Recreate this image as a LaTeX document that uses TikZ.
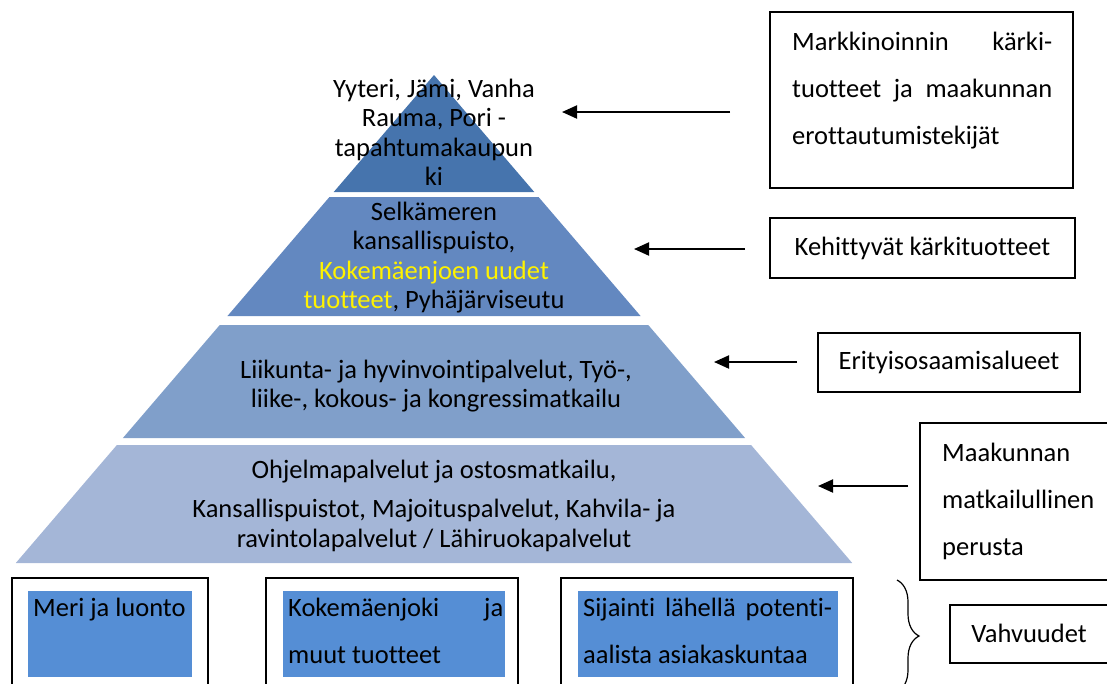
\documentclass[tikz,border=0pt]{standalone}
\usepackage{fontspec}
\setmainfont{Carlito}[Ligatures=NoCommon]
\usetikzlibrary{arrows.meta,decorations.pathreplacing}

\definecolor{layA}{RGB}{70,116,173}
\definecolor{layB}{RGB}{99,136,192}
\definecolor{layC}{RGB}{128,159,202}
\definecolor{layD}{RGB}{164,182,215}
\definecolor{cellblue}{RGB}{85,142,213}

\begin{document}
\begin{tikzpicture}[
    x=1pt, y=-1pt,
    txt/.style={inner sep=0pt, align=center, font=\fontsize{26.5}{29.5}\selectfont},
    box/.style={rectangle, draw, line width=1.6pt},
    note/.style={inner sep=0pt, align=justify, font=\fontsize{26.5}{47}\selectfont},
    >={Triangle[length=15pt,width=13pt]}
]
    \useasboundingbox (0,0) rectangle (1107,683);
    \clip (0,0) rectangle (1107,683);

    % Pyramid layers
    \foreach \ya/\yb/\col in {75/192/layA, 197/316/layB, 325/438/layC, 445/563/layD}{
        \pgfmathsetmacro\wa{0.857*(\ya-75)}
        \pgfmathsetmacro\wb{0.857*(\yb-75)}
        \fill[\col] (434-\wa,\ya) -- (434+\wa,\ya) -- (434+\wb,\yb) -- (434-\wb,\yb) -- cycle;
    }

    % Layer texts
    \node[txt] (top)  at (434,132.5) {Yyteri, Jämi, Vanha\\Rauma, Pori -\\tapahtumakaupun\\ki};
    \node[txt] (mid)  at (434,257.5) {Selkämeren\\kansallispuisto,\\\textcolor{yellow}{Kokemäenjoen uudet}\\\textcolor{yellow}{tuotteet}, Pyhäjärviseutu};
    \node[txt] (spec) at (436,386) {Liikunta- ja hyvinvointipalvelut, Työ-,\\liike-, kokous- ja kongressimatkailu};
    \node[txt] (base) at (434,506) {Ohjelmapalvelut ja ostosmatkailu,\\[9.5pt]Kansallispuistot, Majoituspalvelut, Kahvila- ja\\ravintolapalvelut / Lähiruokapalvelut};

    % Right boxes
    \draw[box] (770,12) rectangle (1073,188);
    \node[note, text width=260pt, anchor=north west] (mark) at (792,31.5)
        {Markkinoinnin kärki-\linebreak tuotteet ja maakunnan\linebreak erottautumistekijät};

    \node[box, minimum width=305pt, minimum height=60pt, font=\fontsize{26.5}{29.5}\selectfont] (kehi) at (922.5,248) {Kehittyvät kärkituotteet};
    \node[box, minimum width=262pt, minimum height=59pt, font=\fontsize{26.5}{29.5}\selectfont] (erit) at (949,362.5) {Erityisosaamisalueet};

    \draw[box] (920,423) rectangle (1120,580);
    \node[note, align=left, anchor=north west] (perus) at (942,442.5) {Maakunnan\\matkailullinen\\perusta};

    % Arrows
    \coordinate (a1s) at (730,112);  \coordinate (a1e) at (562,112);
    \coordinate (a2s) at (745,249);  \coordinate (a2e) at (634,249);
    \coordinate (a3s) at (797,362);  \coordinate (a3e) at (714,362);
    \coordinate (a4s) at (908,486);  \coordinate (a4e) at (818,486);
    \draw[->, line width=2pt] (a1s) -- (a1e);
    \draw[->, line width=2pt] (a2s) -- (a2e);
    \draw[->, line width=2pt] (a3s) -- (a3e);
    \draw[->, line width=2pt] (a4s) -- (a4e);

    % Strengths
    \draw[box] (12,578) rectangle (208,700);
    \draw[box] (266,578) rectangle (518,700);
    \draw[box] (561,578) rectangle (853,700);
    \fill[cellblue] (28,591) rectangle (192,677);
    \fill[cellblue] (283,591) rectangle (505,677);
    \fill[cellblue] (578,591) rectangle (838,677);
    \node[note, anchor=north west] (meri) at (33,598) {Meri ja luonto};
    \node[note, text width=215pt, anchor=north west] (koke) at (288,598) {Kokemäenjoki ja\linebreak muut tuotteet};
    \node[note, text width=249pt, anchor=north west] (sija) at (583,598) {Sijainti lähellä potenti-\linebreak aalista asiakaskuntaa};

    \draw[decorate, decoration={brace, amplitude=22pt}, line width=1.2pt] (897,580) -- (897,692);
    \draw[box] (950,605) rectangle (1120,663);
    \node[txt] (vahv) at (1029,633) {Vahvuudet};
\end{tikzpicture}
\end{document}
